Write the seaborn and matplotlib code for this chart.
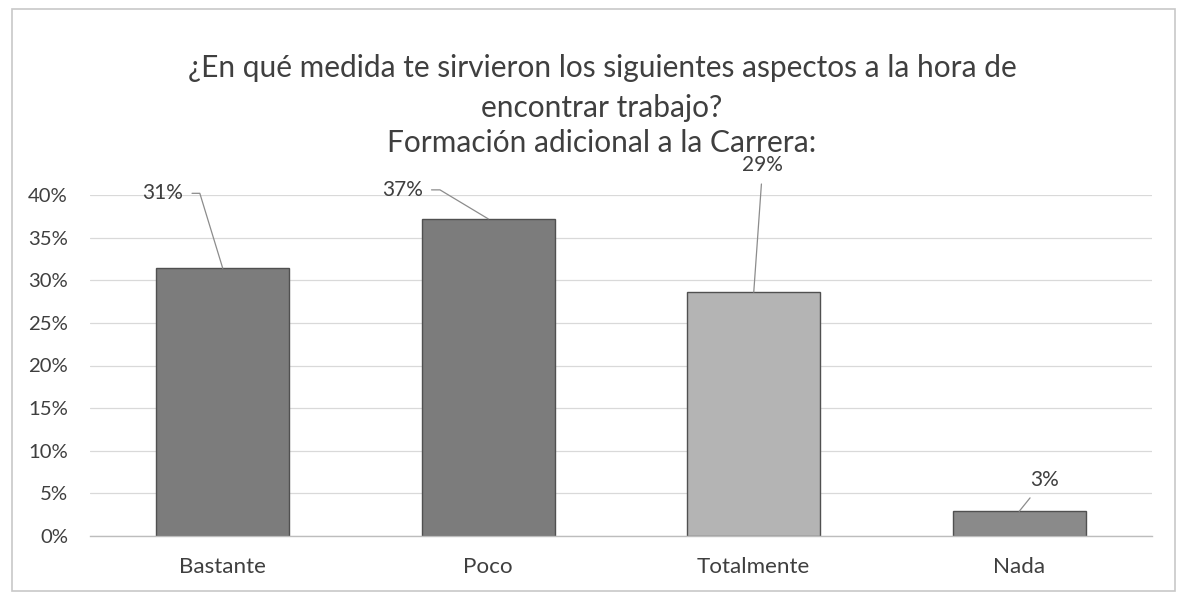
import math
import matplotlib
matplotlib.use("Agg")
import matplotlib.pyplot as plt
import seaborn as sns
import pandas as pd
from matplotlib.patches import Rectangle
from matplotlib.ticker import FixedLocator, FuncFormatter

categories = ["Bastante", "Poco", "Totalmente", "Nada"]
values = [31.4, 37.2, 28.6, 2.9]
bar_colors = ["#7c7c7c", "#7c7c7c", "#b4b4b4", "#8a8a8a"]
yticks = [0, 5, 10, 15, 20, 25, 30, 35, 40]
title_lines = ["¿En qué medida te sirvieron los siguientes aspectos a la hora de",
               "encontrar trabajo?",
               "Formación adicional a la Carrera:"]

sns.set_theme(style="white")
plt.rcParams['font.family'] = ['Lato', 'DejaVu Sans']

W, H = 1178, 594
fig = plt.figure(figsize=(W / 100, H / 100), dpi=100)
renderer = fig.canvas.get_renderer()


def fit_size(sample, target_px):
    t = fig.text(0, 0, sample, fontsize=10)
    w = t.get_window_extent(renderer).width
    t.remove()
    return 10 * target_px / w


fs_title = fit_size(title_lines[0], 831)
fs_ytick = fit_size("15%", 40)
fs_xtick = fit_size("Totalmente", 113)
fs_label = fit_size("31%", 41)

ax_left, ax_right, y0, y40 = 90, 1152, 536, 195
ax = fig.add_axes([ax_left / W, 1 - y0 / H, (ax_right - ax_left) / W, (y0 - y40) / H])

df = pd.DataFrame({"cat": categories, "val": values})
sns.barplot(data=df, x="cat", y="val", hue="cat", palette=dict(zip(categories, bar_colors)),
            width=0.5, legend=False, ax=ax, edgecolor="#505050", linewidth=1.0, saturation=1)

ax.set_ylim(0, 40)
ax.set_xlim(-0.5, len(categories) - 0.5)
ax.yaxis.set_major_locator(FixedLocator(yticks))
ax.yaxis.set_major_formatter(FuncFormatter(lambda v, p: f"{int(v)}%"))
ax.grid(axis="y", color="#d9d9d9", linewidth=0.9)
ax.set_axisbelow(True)
for s in ["left", "right", "top"]:
    ax.spines[s].set_visible(False)
ax.spines["bottom"].set_color("#bdbdbd")
ax.spines["bottom"].set_linewidth(1.0)
ax.set_xlabel("")
ax.set_ylabel("")
ax.tick_params(axis="y", length=0, pad=22 * 0.72, labelsize=fs_ytick, labelcolor="#3f3f3f")
ax.tick_params(axis="x", which="major", length=0, pad=21 * 0.72, labelsize=fs_xtick, labelcolor="#3f3f3f")
ax.xaxis.set_minor_locator(FixedLocator([i - 0.5 for i in range(len(categories) + 1)]))
ax.tick_params(axis="x", which="minor", length=4, color="#bdbdbd", width=1, direction="out")

# data labels with leader lines (offsets in pixels from the bar top)
offsets = [(-60, 75), (-86, 29), (9, 127), (25, 31)]
conns = ["angle,angleA=0,angleB=107,rad=0", "angle,angleA=0,angleB=149,rad=0", "arc3", "arc3"]
for i, v in enumerate(values):
    dx, dy = offsets[i]
    ax.annotate(f"{round(v)}%", xy=(i, v), xytext=(dx, dy), textcoords="offset pixels",
                ha="center", va="center", fontsize=fs_label, color="#3f3f3f", annotation_clip=False,
                arrowprops=dict(arrowstyle="-", color="#8c8c8c", lw=0.9,
                                shrinkA=4, shrinkB=0, connectionstyle=conns[i]))

for line, yc in zip(title_lines, [68, 108, 143]):
    fig.text(602 / W, 1 - yc / H, line, ha="center", va="center",
             fontsize=fs_title, color="#3f3f3f")

fig.patches.append(Rectangle((12 / W, 3 / H), (1175 - 12) / W, (590 - 8) / H,
                             transform=fig.transFigure, fill=False, edgecolor="#c8c8c8", lw=1.2))

fig.savefig("out.png", dpi=100)
